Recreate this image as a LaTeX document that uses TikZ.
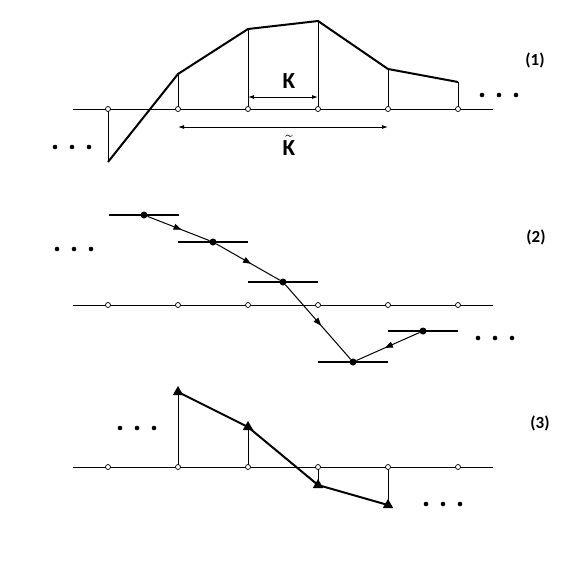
\documentclass[tikz,border=0pt]{standalone}
\usepackage{fontspec}
\setmainfont{Carlito}
\usepackage{tikz}
\usetikzlibrary{arrows.meta,positioning,calc,decorations.markings,shapes.geometric}

\tikzset{
  gridpt/.style={circle,draw,fill=white,inner sep=0pt,minimum size=5pt,line width=0.7pt},
  solpt/.style={circle,fill,inner sep=0pt,minimum size=7pt},
  tri/.style={regular polygon,regular polygon sides=3,fill,inner sep=0pt,minimum size=12pt},
  curve/.style={line width=2pt,line join=round},
  stem/.style={line width=0.9pt},
  bar/.style={line width=2pt},
  midarrow/.style={line width=1pt,postaction={decorate},
    decoration={markings,mark=at position 0.55 with {\arrow{Triangle[length=8pt,width=6pt]}}}},
  lab/.style={font=\fontsize{17}{19}\selectfont\bfseries},
  klab/.style={font=\fontsize{23}{26}\selectfont\bfseries,inner sep=0pt},
}
\newcommand{\threedots}[1]{\foreach \d in {0,17,34} \fill ($(#1)+(\d,0)$) circle (2.3pt);}

\begin{document}
\begin{tikzpicture}[x=1pt,y=-1pt]
  \useasboundingbox (0,0) rectangle (577,562);
  % (1)
  \coordinate (aL) at (73,109); \coordinate (aR) at (493,109);
  \draw[stem] (aL) -- (aR);
  \coordinate (c0) at (108,162); \coordinate (c1) at (178,74);
  \coordinate (c2) at (248,29);  \coordinate (c3) at (318,21);
  \coordinate (c4) at (388,69);  \coordinate (c5) at (458,82);
  \draw[curve] (c0) -- (c1) -- (c2) -- (c3) -- (c4) -- (c5);
  \foreach \i/\x in {0/108,1/178,2/248,3/318,4/388,5/458} {
    \draw[stem] (\x,109) -- (c\i);
    \node[gridpt] (a\i) at (\x,109) {};
  }
  \coordinate (k1) at (248,97); \coordinate (k2) at (318,97);
  \draw[stem,{Latex[length=6pt,width=4pt]}-{Latex[length=6pt,width=4pt]}] (k1) -- (k2);
  \node[klab] (kk) at (289,81) {K};
  \coordinate (kt1) at (178,127); \coordinate (kt2) at (388,127);
  \draw[stem,{Latex[length=6pt,width=4pt]}-{Latex[length=6pt,width=4pt]}] (kt1) -- (kt2);
  \node[klab] (kt) at (289,145) {$\tilde{\mbox{K}}$};
  \coordinate (d1r) at (482,95); \threedots{d1r}
  \coordinate (d1l) at (55,147); \threedots{d1l}
  \node[lab] (n1) at (535,60) {(1)};

  % (2)
  \coordinate (bL) at (73,305); \coordinate (bR) at (493,305);
  \draw[stem] (bL) -- (bR);
  \foreach \i/\x in {0/108,1/178,2/248,3/318,4/388,5/458}
    \node[gridpt] (b\i) at (\x,305) {};
  \node[solpt] (p1) at (144,215) {};
  \node[solpt] (p2) at (213,242) {};
  \node[solpt] (p3) at (283,282) {};
  \node[solpt] (p4) at (353,362) {};
  \node[solpt] (p5) at (423,331) {};
  \foreach \i in {1,...,5}
    \draw[bar] ([xshift=-35pt]p\i.center) -- ([xshift=35pt]p\i.center);
  \draw[midarrow] (p1) -- (p2);
  \draw[midarrow] (p2) -- (p3);
  \draw[midarrow] (p3) -- (p4);
  \draw[midarrow] (p5) -- (p4);
  \coordinate (d2l) at (57,249); \threedots{d2l}
  \coordinate (d2r) at (478,338); \threedots{d2r}
  \node[lab] (n2) at (536,237) {(2)};

  % (3)
  \coordinate (eL) at (73,467); \coordinate (eR) at (493,467);
  \draw[stem] (eL) -- (eR);
  \node[tri] (t1) at (178,392) {};
  \node[tri] (t2) at (248,427) {};
  \node[tri] (t3) at (318,485) {};
  \node[tri] (t4) at (388,505) {};
  \draw[curve] (t1.center) -- (t2.center) -- (t3.center) -- (t4.center);
  \foreach \i/\x in {1/178,2/248,3/318,4/388}
    \draw[stem] (\x,467) -- (t\i.center);
  \foreach \i/\x in {0/108,1/178,2/248,3/318,4/388,5/458}
    \node[gridpt] (e\i) at (\x,467) {};
  \coordinate (d3l) at (120,428); \threedots{d3l}
  \coordinate (d3r) at (426,504); \threedots{d3r}
  \node[lab] (n3) at (540,423) {(3)};
\end{tikzpicture}
\end{document}
